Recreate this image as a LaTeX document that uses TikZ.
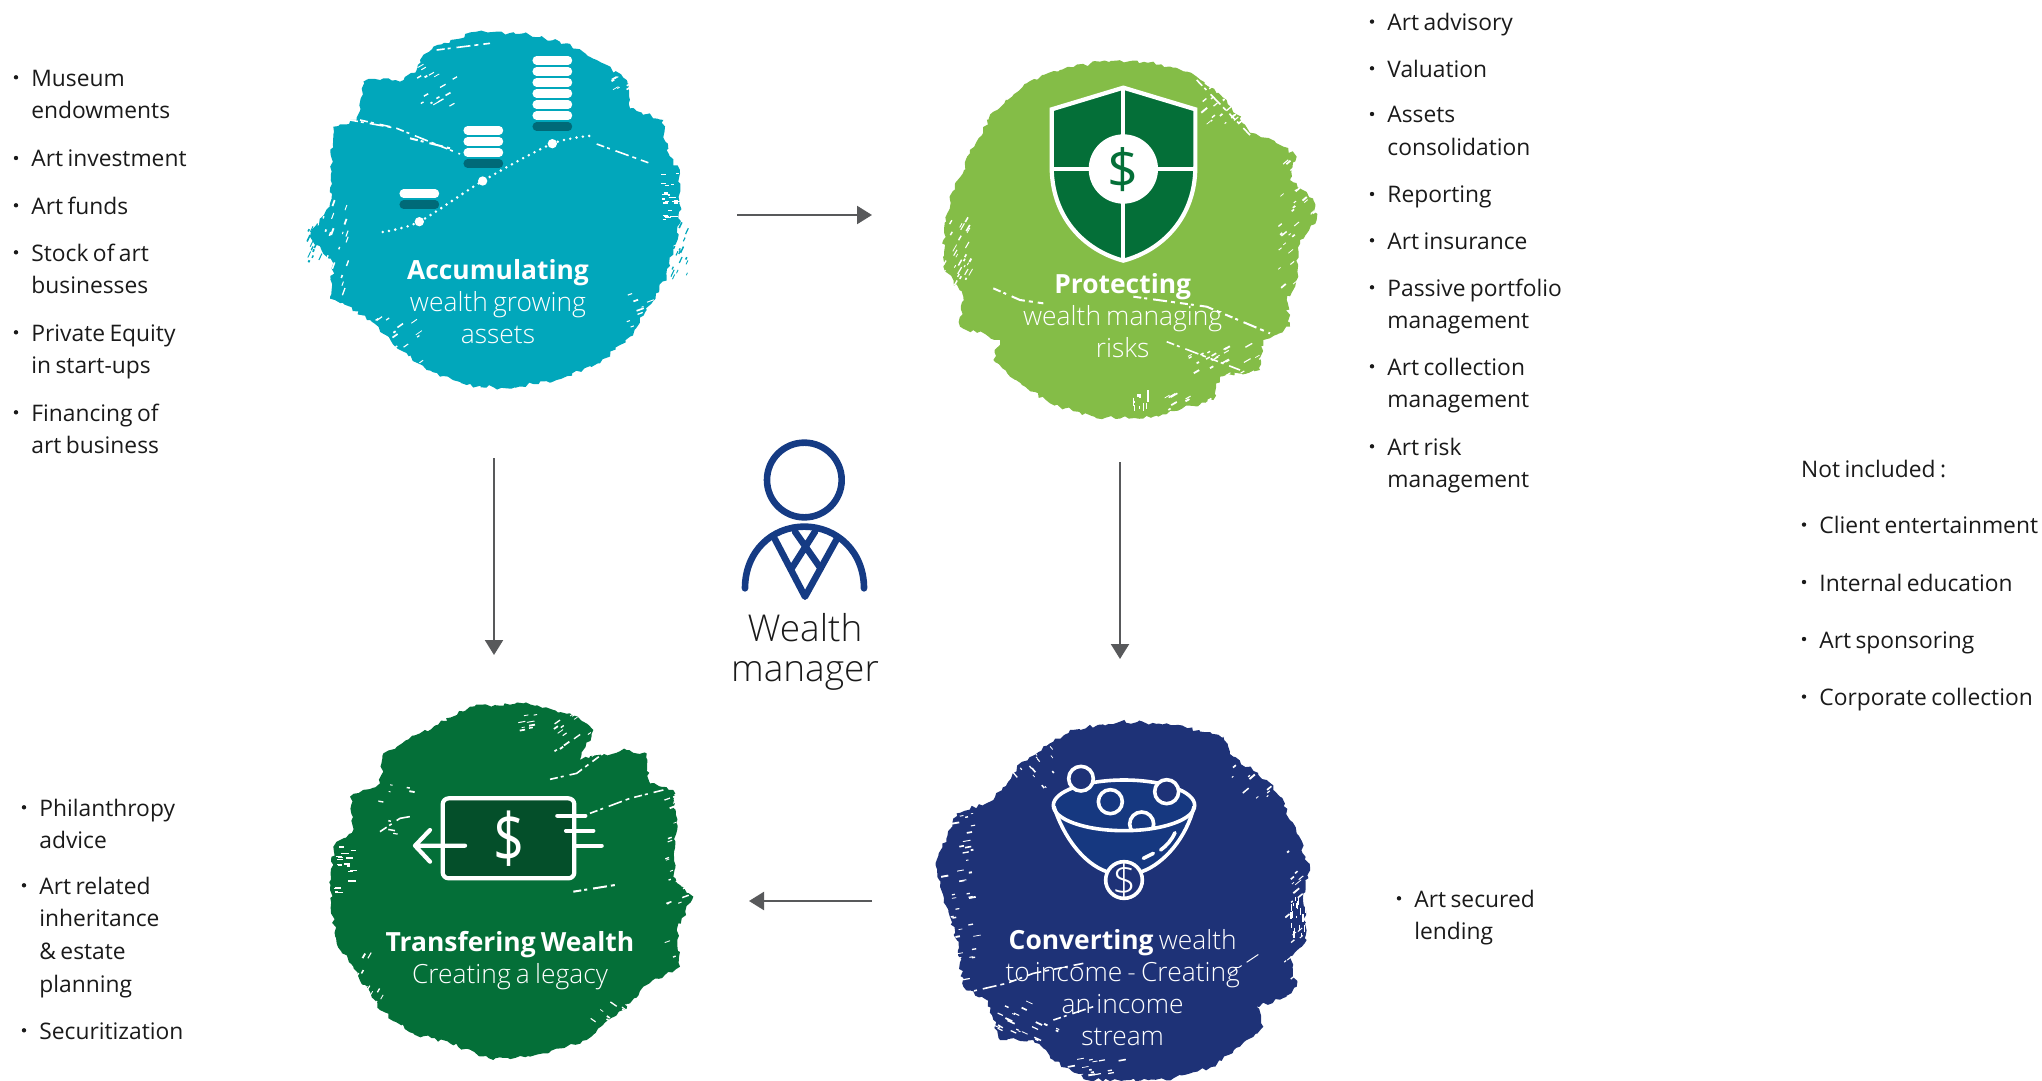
\documentclass[tikz,border=0pt]{standalone}
\usepackage{fontspec}
\usepackage{graphicx}
\setmainfont{Open Sans}[WordSpace=0.75]
\newfontfamily\oslight{Open Sans Light}[WordSpace=0.75]
\usetikzlibrary{decorations.pathmorphing,arrows.meta}
\definecolor{teal}{HTML}{01A7BB}
\definecolor{leaf}{HTML}{84BD47}
\definecolor{forest}{HTML}{046F38}
\definecolor{navy}{HTML}{1E3277}
\definecolor{tealdark}{HTML}{006A78}
\definecolor{forestdark}{HTML}{044F2A}
\definecolor{bowlblue}{HTML}{163880}
\definecolor{personblue}{HTML}{153B84}
\definecolor{arrowgrey}{HTML}{58595B}
\definecolor{txt}{HTML}{1A1A1A}
\tikzset{
  zf/.style 2 args={shift={(#1,#2)},x=0.166667pt,y=-0.166667pt},
  blob/.style={fill=#1,decorate,decoration={random steps,segment length=2pt,amplitude=1pt}},
  streak/.style={white,line width=#1,dash pattern=on 4pt off 1.5pt on 1.5pt off 3pt on 7pt off 2pt on 2pt off 2.5pt},
  streak/.default=0.8pt,
  listtext/.style={anchor=base west,inner sep=0pt,text=txt,font=\fontsize{11.4}{16}\selectfont},
  bulletmark/.style={fill=txt},
  title/.style={anchor=base,inner sep=0pt,text=white,font=\fontsize{13.2}{16}\selectfont},
  flow/.style={draw=arrowgrey,line width=1.15pt,-{Triangle[length=7.5pt,width=9pt]}},
  icon/.style={draw=white,line width=#1,line cap=round,line join=round},
  icon/.default=2.1pt,
}
\newcommand\llines[1]{\vtop{\baselineskip=16.3pt\lineskiplimit=-100pt\halign{##\hfil\cr#1}}}
\newcommand\clines[1]{\vtop{\baselineskip=16.1pt\lineskiplimit=-100pt\halign{\hfil##\hfil\cr#1}}}
\newcommand\itm[4]{\fill[bulletmark] ({#2-15},{#3+1.3-9}) circle (1.1pt);\node[listtext] (#1) at (#2,{#3+1.3}) {#4};}
\newcommand\fray[7]{\foreach \i in {1,...,#5}{\pgfmathsetmacro\fx{#1+rnd*(#2-#1)}\pgfmathsetmacro\fy{#3+rnd*(#4-#3)}\pgfmathsetmacro\fl{6+rnd*18}\pgfmathsetmacro\fw{0.35+rnd*0.6}\draw[#6,line width=\fw pt] (\fx,\fy)--++(#7:\fl);}}
\begin{document}
\begin{tikzpicture}[x=0.5pt,y=-0.5pt]
\useasboundingbox (0,0) rectangle (2042,1081);
\pgfmathsetseed{4242}

% ---------- Accumulating
\begin{scope}[zf={290}{10}]
\fill[blob=teal] (560,65)--(700,70)--(830,100)--(920,150)--(1010,210)--(1020,295)--(1120,330)--(1130,420)--(1170,490)--(1170,640)--(1150,720)--(1130,800)--(1070,900)--(1020,980)--(930,1060)--(800,1110)--(650,1135)--(530,1125)--(410,1080)--(330,1020)--(240,930)--(120,860)--(130,760)--(60,680)--(120,580)--(130,350)--(200,330)--(220,215)--(280,205)--(330,215)--(380,180)--(390,150)--(430,110)--cycle;
\fray{60}{170}{580}{860}{36}{white}{-70}
\fray{50}{130}{620}{760}{18}{teal}{-65}
\fray{1110}{1160}{490}{630}{22}{white}{0}
\fray{1130}{1190}{640}{820}{18}{teal}{-65}
\fray{380}{500}{170}{290}{16}{white}{-30}
\fray{960}{1030}{200}{290}{10}{white}{-30}
\fray{250}{400}{930}{1070}{18}{white}{-35}
\fray{1010}{1080}{840}{990}{10}{white}{-20}
\draw[streak] (180,330)--(320,355)--(510,432);
\draw[streak] (920,402)--(1080,460);
\draw[streak] (210,330)--(300,350);
\draw[streak=1pt] (360,385)--(480,415);
\draw[streak] (440,120)--(600,100);
\foreach \y in {151,184,217,250,284,317}{\draw[white,line width=4.2pt,line cap=round] (740,\y)--(834,\y);}
\draw[tealdark,line width=4.2pt,line cap=round] (740,350)--(834,350);
\foreach \y in {361,394,428}{\draw[white,line width=4.2pt,line cap=round] (533,\y)--(627,\y);}
\draw[tealdark,line width=4.2pt,line cap=round] (533,461)--(627,461);
\draw[white,line width=4.2pt,line cap=round] (341,551)--(435,551);
\draw[tealdark,line width=4.2pt,line cap=round] (341,584)--(435,584);
\draw[white,line width=1.4pt,line cap=round,dash pattern=on 0pt off 3.2pt] plot[smooth] coordinates {(278,666) (388,635) (578,513) (787,401) (915,376)};
\fill[white] (388,635) circle[radius=14] (578,513) circle[radius=14] (787,401) circle[radius=14];
\end{scope}

% ---------- Protecting
\begin{scope}[zf={920}{40}]
\fill[blob=leaf] (540,65)--(700,65)--(830,110)--(920,180)--(985,270)--(1090,320)--(1130,350)--(1110,420)--(1180,480)--(1190,540)--(1140,600)--(1130,720)--(1100,780)--(1110,860)--(1030,900)--(1020,990)--(900,1010)--(880,1080)--(700,1130)--(530,1135)--(390,1090)--(270,1010)--(220,960)--(240,900)--(120,860)--(130,770)--(70,680)--(70,600)--(90,480)--(150,340)--(220,215)--(320,130)--(420,90)--cycle;
\fray{70}{150}{540}{750}{28}{white}{-60}
\fray{840}{990}{130}{280}{22}{white}{-40}
\fray{1070}{1180}{340}{800}{46}{white}{-40}
\fray{640}{700}{1050}{1105}{12}{white}{90}
\fray{730}{880}{1060}{1110}{10}{white}{-30}
\fray{780}{1020}{920}{1010}{24}{white}{-30}
\draw[streak=1pt] (220,745)--(300,780)--(370,790);
\draw[streak=1pt] (640,770)--(860,800)--(1050,880);
\draw[streak] (740,905)--(960,990);
\draw[streak] (830,120)--(990,285);
\path[fill=forest,draw=white,line width=2.1pt,line join=miter] (610,143)--(826,208)--(826,380) .. controls (826,530) and (730,630) .. (610,662) .. controls (490,630) and (395,530) .. (395,380)--(395,208)--cycle;
\draw[white,line width=2.1pt] (610,143)--(610,662) (395,387)--(826,387);
\fill[white] (610,387) circle[radius=104];
\node[inner sep=0pt,text=forest,font=\fontsize{27}{30}\selectfont] (shieldsign) at (610,390) {\$};
\end{scope}

% ---------- Transfering Wealth
\begin{scope}[zf={310}{690}]
\fill[blob=forest] (480,50)--(640,40)--(780,70)--(850,120)--(810,210)--(950,180)--(1010,190)--(1020,280)--(1090,300)--(1100,400)--(1090,560)--(1150,620)--(1100,720)--(1110,830)--(1000,890)--(960,940)--(830,1050)--(700,1090)--(550,1110)--(420,1060)--(310,1030)--(210,960)--(130,830)--(80,760)--(60,600)--(70,470)--(130,420)--(120,320)--(210,280)--(220,190)--(330,130)--cycle;
\fray{70}{125}{465}{610}{20}{white}{0}
\fray{1060}{1160}{310}{830}{42}{white}{-20}
\fray{730}{860}{70}{210}{18}{white}{-35}
\fray{620}{690}{70}{125}{8}{white}{-10}
\fray{840}{980}{930}{1050}{18}{white}{35}
\fray{200}{300}{270}{430}{8}{white}{10}
\fray{120}{240}{800}{980}{16}{white}{-60}
\draw[streak] (720,268)--(800,250)--(880,190);
\draw[streak] (840,370)--(960,325)--(1060,300);
\draw[streak] (210,425)--(270,385)--(310,378);
\draw[streak=1pt] (790,605)--(915,585);
\draw[fill=forestdark,draw=white,line width=2.1pt,rounded corners=3pt] (398,325) rectangle (793,565);
\draw[icon] (465,467)--(315,467) (360,420)--(315,467)--(360,515);
\draw[icon] (742,377)--(826,377) (768,422)--(850,422) (800,467)--(875,467);
\node[inner sep=0pt,text=white,font=\fontsize{34}{36}\selectfont] (notesign) at (596,447) {\scalebox{0.8}[1]{\$}};
\end{scope}

% ---------- Converting
\begin{scope}[zf={920}{700}]
\fill[blob=navy] (450,90)--(600,65)--(740,70)--(910,110)--(940,170)--(1040,240)--(1080,290)--(1130,400)--(1170,500)--(1150,580)--(1160,720)--(1110,770)--(1130,860)--(1100,890)--(1010,920)--(1030,980)--(980,1020)--(880,1100)--(760,1135)--(500,1140)--(400,1080)--(340,1020)--(240,1020)--(200,900)--(130,860)--(110,720)--(60,560)--(50,480)--(110,340)--(220,300)--(300,190)--(400,125)--cycle;
\fray{40}{160}{340}{840}{46}{white}{-10}
\fray{1110}{1160}{590}{700}{18}{white}{90}
\fray{930}{1060}{140}{300}{14}{white}{-40}
\fray{1090}{1140}{400}{880}{18}{white}{-40}
\fray{250}{400}{130}{260}{18}{white}{50}
\fray{200}{420}{900}{1020}{24}{white}{25}
\fray{440}{600}{1070}{1130}{16}{white}{-10}
\draw[streak] (130,880)--(260,850)--(340,820)--(490,790);
\draw[streak] (400,960)--(520,920);
\draw[streak=0.5pt] (930,820)--(1020,760);
\path[fill=bowlblue] (405,315) .. controls (430,410) and (490,490) .. (565,515)--(660,515) .. controls (735,490) and (800,410) .. (820,315)--cycle;
\draw[fill=bowlblue,draw=white,line width=1.8pt] (612,316) ellipse[x radius=212,y radius=76];
\begin{scope}
\clip (612,316) ellipse[x radius=212,y radius=74];
\draw[white,line width=1.8pt] (665,372) circle[radius=36];
\end{scope}
\draw[white,line width=1.8pt,line cap=round,line join=round] (402,320) .. controls (430,410) and (490,490) .. (560,515) (822,320) .. controls (800,410) and (735,490) .. (665,515);
\draw[white,line width=1.8pt,line cap=round] (670,475)--(700,460) (722,450) .. controls (740,437) and (755,420) .. (765,398);
\draw[fill=navy,draw=white,line width=1.8pt] (483,236) circle[radius=37];
\draw[fill=bowlblue,draw=white,line width=1.8pt] (571,305) circle[radius=36];
\draw[fill=navy,draw=white,line width=1.8pt] (740,275) circle[radius=36];
\draw[fill=navy,draw=white,line width=1.8pt] (612,540) circle[radius=55];
\node[inner sep=0pt,text=white,font=\oslight\fontsize{21}{22}\selectfont] (coinsign) at (612,541) {\$};
\end{scope}

% ---------- Person
\begin{scope}[zf={700}{420},personblue,line width=3.3pt,line cap=round,line join=round]
\draw (313,180) circle[radius=112];
\draw (135,505) .. controls (135,395) and (215,320) .. (313,320) .. controls (411,320) and (492,395) .. (492,505);
\draw (225,358)--(315,530)--(410,358);
\draw (285,335)--(362,445) (345,335)--(275,445);
\end{scope}
\node[anchor=base,inner sep=0pt,text=txt,font=\oslight\fontsize{18.5}{20}\selectfont] (manager) at (805,641.7) {\vtop{\baselineskip=20pt\lineskiplimit=-100pt\halign{\hfil#\hfil\cr Wealth\cr manager\cr}}};

% ---------- Titles
\node[title] (acctitle) at (498,279.5) {\clines{\textbf{Accumulating}\cr\oslight wealth growing\cr\oslight assets\cr}};
\node[title] (protitle) at (1122.7,293) {\clines{\textbf{Protecting}\cr\oslight wealth managing\cr\oslight risks\cr}};
\node[title] (tratitle) at (510,951.5) {\clines{\textbf{Transfering Wealth}\cr\oslight Creating a legacy\cr}};
\node[title] (contitle) at (1122.7,949) {\clines{\textbf{Converting} {\oslight wealth}\cr\oslight to income - Creating\cr\oslight an income\cr\oslight stream\cr}};

% ---------- Connectors
\coordinate (aAccOut) at (737,215);
\coordinate (aProIn) at (872,215);
\coordinate (aAccDown) at (494,458);
\coordinate (aTraIn) at (494,655);
\coordinate (aProDown) at (1120,462);
\coordinate (aConIn) at (1120,659);
\coordinate (aConOut) at (872,901);
\coordinate (aTraSide) at (749,901);
\draw[flow] (aAccOut)--(aProIn);
\draw[flow] (aAccDown)--(aTraIn);
\draw[flow] (aProDown)--(aConIn);
\draw[flow] (aConOut)--(aTraSide);

% ---------- Lists
\itm{l1}{31}{85}{\llines{Museum\cr endowments\cr}}
\itm{l2}{31}{165.7}{Art investment}
\itm{l3}{31}{213}{Art funds}
\itm{l4}{31}{260}{\llines{Stock of art\cr businesses\cr}}
\itm{l5}{31}{340}{\llines{Private Equity\cr in start-ups\cr}}
\itm{l6}{31}{420}{\llines{Financing of\cr art business\cr}}

\itm{r1}{1387}{29.3}{Art advisory}
\itm{r2}{1387}{76}{Valuation}
\itm{r3}{1387}{121.7}{\llines{Assets\cr consolidation\cr}}
\itm{r4}{1387}{201.7}{Reporting}
\itm{r5}{1387}{248}{Art insurance}
\itm{r6}{1387}{295}{\llines{Passive portfolio\cr management\cr}}
\itm{r7}{1387}{374}{\llines{Art collection\cr management\cr}}
\itm{r8}{1387}{454}{\llines{Art risk\cr management\cr}}

\node[listtext] (nhead) at (1800.7,477) {Not included :};
\itm{n1}{1819}{532.3}{Client entertainment}
\itm{n2}{1819}{589.7}{Internal education}
\itm{n3}{1819}{646.7}{Art sponsoring}
\itm{n4}{1819}{704.3}{Corporate collection}

\itm{t1}{39}{815}{\llines{Philanthropy\cr advice\cr}}
\itm{t2}{39}{893}{\llines{Art related\cr inheritance\cr \& estate\cr planning\cr}}
\itm{t3}{39}{1038}{Securitization}

\itm{c1}{1414}{906}{\llines{Art secured\cr lending\cr}}
\end{tikzpicture}
\end{document}
